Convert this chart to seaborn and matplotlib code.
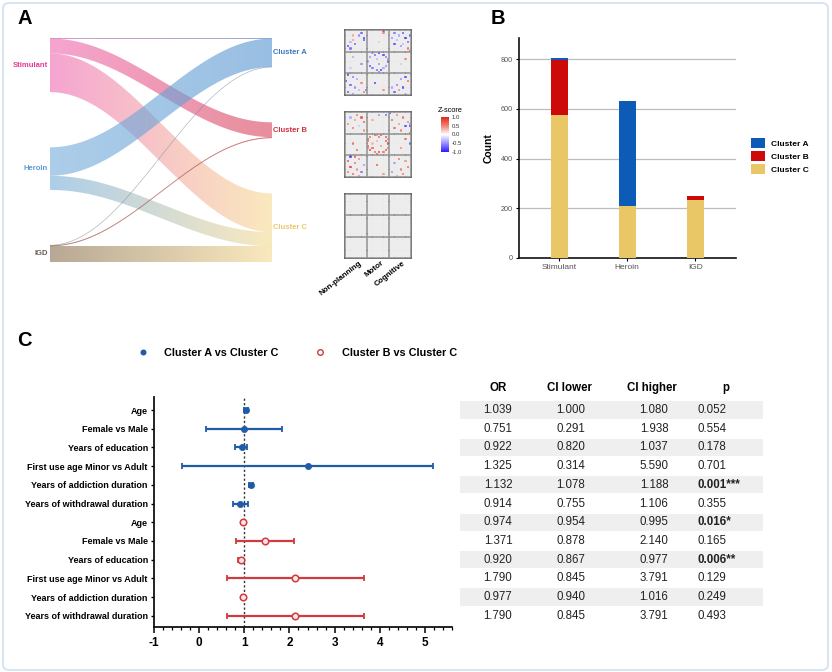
import numpy as np
import pandas as pd
import matplotlib
matplotlib.use("Agg")
import matplotlib.pyplot as plt
import seaborn as sns
from matplotlib.colors import LinearSegmentedColormap, to_rgb
from matplotlib.patches import PathPatch, Patch, FancyBboxPatch
from matplotlib.path import Path
from matplotlib.lines import Line2D

plt.rcParams['font.family'] = ['Liberation Sans', 'DejaVu Sans']

# ---------------- data ----------------
sources = ["Stimulant", "Heroin", "IGD"]
clusters = ["Cluster A", "Cluster B", "Cluster C"]
count_a = [8, 422, 2]
count_b = [220, 0, 15]
count_c = [575, 210, 233]

# heatmap sparse entries (row, col, z)
hm1_cells = [
    (1, 7, -0.8), (2, 6, -0.6), (3, 8, -1.0), (4, 3, 0.5), (5, 2, -0.4), (6, 4, -0.8), (7, 1, -0.9),
    (8, 2, -0.7), (2, 3, 0.4), (4, 8, -0.9),
    (0, 17, 0.9), (1, 17, 0.6), (5, 15, 0.3),
    (1, 22, -0.7), (1, 26, -0.9), (2, 24, -0.5), (3, 21, -0.6), (3, 27, -1.0), (4, 23, -0.4),
    (5, 28, -0.8), (6, 22, -0.9), (7, 25, -0.6), (8, 28, 0.7), (9, 29, 0.9), (2, 29, -0.8), (6, 26, -0.4),
    (12, 3, -0.5), (15, 7, -0.6), (17, 2, -0.3),
    (10, 15, -1.0), (11, 13, -0.8), (11, 17, -0.9), (12, 11, -0.6), (12, 18, -0.7), (14, 10, -0.5),
    (14, 19, -0.8), (16, 11, -0.9), (16, 18, -0.6), (17, 12, -0.7), (18, 14, -0.8), (18, 16, -1.0),
    (17, 17, -0.5), (13, 14, -0.4), (15, 15, -0.6), (10, 12, -0.5), (19, 15, -0.7), (13, 19, -0.6),
    (13, 27, 0.6), (15, 25, -0.3),
    (20, 1, -0.9), (21, 3, -0.7), (22, 5, -0.5), (23, 0, -1.0), (24, 7, 0.6), (25, 2, -0.8),
    (26, 4, -0.6), (27, 6, -0.4), (28, 1, -0.9), (28, 8, 0.7), (29, 3, -0.6), (27, 9, -0.8),
    (24, 13, -1.0), (27, 17, 0.5),
    (21, 27, -0.9), (22, 25, -0.6), (23, 28, 0.8), (25, 23, -0.7), (26, 21, -0.5), (26, 26, -0.9),
    (27, 24, 0.6), (28, 22, -0.8), (29, 27, -0.4),
]
hm2_cells = [
    (1, 5, 0.7), (2, 2, -0.4), (2, 7, 0.8), (3, 4, 0.5), (4, 8, 0.9), (5, 1, 0.6), (6, 6, -0.3),
    (7, 3, 0.7), (8, 8, 0.5),
    (1, 15, -0.6), (1, 18, -0.8), (3, 12, 0.4),
    (0, 20, -1.0), (1, 23, 0.6), (2, 26, 0.7), (3, 21, 0.8), (4, 28, 0.6), (5, 24, 0.5), (6, 27, -0.9),
    (6, 29, -1.0), (7, 22, 0.7), (8, 25, 0.6), (9, 29, 0.9), (5, 29, -0.6),
    (14, 3, 0.7), (17, 5, 0.8),
    (10, 13, 0.9), (10, 16, 1.0), (11, 11, 0.8), (11, 18, 0.9), (12, 10, 1.0), (12, 19, 0.7),
    (13, 10, 0.8), (14, 19, 1.0), (15, 10, 0.9), (16, 10, 0.7), (16, 19, 0.8), (17, 11, 1.0),
    (17, 18, 0.9), (18, 13, 0.8), (18, 15, 1.0), (18, 17, 0.7), (10, 14, 0.6), (19, 14, 0.9),
    (13, 14, 0.4), (15, 16, 0.5), (14, 12, 0.3), (11, 15, 0.8), (13, 18, 0.9), (16, 12, 0.8),
    (12, 27, 0.7), (14, 29, -0.8), (16, 25, 0.6),
    (20, 2, -0.9), (20, 4, 0.8), (21, 6, 0.6), (22, 1, 0.9), (23, 4, 0.7), (24, 8, -0.6), (25, 2, 1.0),
    (26, 5, 0.5), (27, 7, -0.7), (28, 3, 0.8), (29, 6, 0.6), (27, 1, 0.7),
    (24, 14, 0.9), (28, 17, 0.5),
    (21, 24, 0.7), (22, 27, 0.5), (23, 22, -0.5), (25, 28, 0.8), (26, 25, 0.6), (27, 21, -0.6),
    (28, 26, 0.7), (29, 23, 0.5),
]
hm3_cells = []
hm_block_labels = ["Non-planning", "Motor", "Cognitive"]

row_labels = ["Age", "Female vs Male", "Years of education", "First use age Minor vs Adult",
              "Years of addiction duration", "Years of withdrawal duration"]
or_a = [1.04, 0.99, 0.95, 2.41, 1.15, 0.91]
lo_a = [1.00, 0.16, 0.80, -0.39, 1.10, 0.75]
hi_a = [1.08, 1.84, 1.05, 5.19, 1.20, 1.08]
or_b = [0.97, 1.46, 0.92, 2.13, 0.98, 2.13]
lo_b = [0.95, 0.82, 0.87, 0.62, 0.94, 0.62]
hi_b = [0.995, 2.09, 0.98, 3.65, 1.02, 3.65]

tab_or = ["1.039", "0.751", "0.922", "1.325", "1.132", "0.914", "0.974", "1.371", "0.920", "1.790", "0.977", "1.790"]
tab_lo = ["1.000", "0.291", "0.820", "0.314", "1.078", "0.755", "0.954", "0.878", "0.867", "0.845", "0.940", "0.845"]
tab_hi = ["1.080", "1.938", "1.037", "5.590", "1.188", "1.106", "0.995", "2.140", "0.977", "3.791", "1.016", "3.791"]
tab_p = ["0.052", "0.554", "0.178", "0.701", "0.001***", "0.355", "0.016*", "0.165", "0.006**", "0.129", "0.249", "0.493"]
tab_p_bold = [False, False, False, False, True, False, True, False, True, False, False, False]
tab_headers = ["OR", "CI lower", "CI higher", "p"]

# ---------------- figure ----------------
W, H = 832, 672
fig = plt.figure(figsize=(W / 100, H / 100), dpi=100)
fig.patch.set_facecolor("white")


def add_px(x0, y0, x1, y1):
    return fig.add_axes([x0 / W, 1 - y1 / H, (x1 - x0) / W, (y1 - y0) / H])


fig.add_artist(FancyBboxPatch((3 / W, 2 / H), 825 / W, 667 / H,
                              boxstyle="round,pad=0,rounding_size=0.008",
                              transform=fig.transFigure, fill=False,
                              edgecolor="#d3e2f1", lw=1.3))

# ---------------- Panel A : sankey ----------------
src_colors = ["#f06eb4", "#7ab0dd", "#8c7355"]
tgt_colors = ["#5a97d2", "#d94a5e", "#f7dc96"]
src_label_colors = ["#e5399b", "#5b9bd5", "#6b5a4a"]
tgt_label_colors = ["#3a78c2", "#cf2f3d", "#ebc86a"]

flows = np.array([count_a, count_b, count_c]).T  # rows: sources, cols: clusters
src_tot = flows.sum(axis=1)
tgt_tot = flows.sum(axis=0)
GAP = 820
src_top = [src_tot[:i].sum() + i * GAP for i in range(3)]
tgt_top = [tgt_tot[:j].sum() + j * GAP for j in range(3)]
total_h = src_tot.sum() + 2 * GAP

axs = add_px(50, 38, 272, 262)
axs.axis("off")
xs = np.linspace(0, 1, 200)
sm = (1 - np.cos(np.pi * xs)) / 2
grad = np.linspace(0, 1, 256)[:, None]
for i in range(3):
    for j in range(3):
        v = flows[i, j]
        if v <= 0:
            continue
        ly0 = src_top[i] + flows[i, :j].sum()
        ry0 = tgt_top[j] + flows[:i, j].sum()
        top = ly0 + (ry0 - ly0) * sm
        bot = top + v
        verts = np.vstack([np.column_stack([xs, top]), np.column_stack([xs[::-1], bot[::-1]])])
        patch = PathPatch(Path(verts), facecolor="none", edgecolor="none", transform=axs.transData)
        axs.add_patch(patch)
        c0, c1 = np.array(to_rgb(src_colors[i])), np.array(to_rgb(tgt_colors[j]))
        img = (c0 * (1 - grad) + c1 * grad)[None, :, :]
        im = axs.imshow(img, extent=[0, 1, total_h, 0], aspect="auto", alpha=0.62,
                        interpolation="bilinear")
        im.set_clip_path(patch)
        if v < 20:
            axs.plot(xs, top + v / 2, color=c0 * 0.5 + c1 * 0.5, lw=0.5, alpha=0.5)
axs.set_xlim(0, 1)
axs.set_ylim(total_h, 0)
for i, name in enumerate(sources):
    axs.text(-0.01, src_top[i] + src_tot[i] / 2, name, ha="right", va="center",
             fontsize=5.5, fontweight="bold", color=src_label_colors[i], clip_on=False)
for j, name in enumerate(clusters):
    axs.text(1.005, tgt_top[j] + tgt_tot[j] / 2, name, ha="left", va="center",
             fontsize=5.5, fontweight="bold", color=tgt_label_colors[j], clip_on=False)

# ---------------- Panel A : heatmaps ----------------
zcmap = LinearSegmentedColormap.from_list("z", ["#2b1cff", "#9a90ff", "#ffffff", "#f0836f", "#e4261b"])
N = 30
hm_boxes = [(345, 30, 411, 95), (345, 112, 411, 177), (345, 194, 411, 258)]
hm_sets = [hm1_cells, hm2_cells, hm3_cells]
mappable = None
for k, (box, cells) in enumerate(zip(hm_boxes, hm_sets)):
    axh = add_px(*box)
    mat = np.full((N, N), np.nan)
    for r, c, z in cells:
        mat[r, c] = z
    sns.heatmap(mat, ax=axh, cmap=zcmap, vmin=-1, vmax=1, cbar=False,
                xticklabels=False, yticklabels=False)
    if k == 0:
        mappable = axh.collections[0]
    axh.set_facecolor("#e8e8e8")
    axh.set_xticks(np.arange(N + 1), minor=True)
    axh.set_yticks(np.arange(N + 1), minor=True)
    axh.grid(which="minor", color="#f8f8f8", lw=0.3)
    axh.set_axisbelow(False)
    axh.tick_params(which="both", length=0)
    for b in (10, 20):
        axh.axhline(b, color="#555555", lw=1.1)
        axh.axvline(b, color="#555555", lw=1.1)
    for s in axh.spines.values():
        s.set_visible(True)
        s.set_color("#555555")
        s.set_linewidth(1.1)
    if k == 2:
        axh.set_xticks([6.2, 16.2, 26.2])
        axh.set_xticklabels(hm_block_labels, rotation=38, ha="right", va="top",
                            rotation_mode="anchor", fontsize=5.8, fontweight="bold")
        axh.tick_params(axis="x", pad=1.0)

cax = add_px(441, 117, 449, 152)
cb = fig.colorbar(mappable, cax=cax)
cb.set_ticks([1.0, 0.5, 0.0, -0.5, -1.0])
cb.set_ticklabels(["1.0", "0.5", "0.0", "-0.5", "-1.0"])
cax.tick_params(length=0, labelsize=4.3, pad=2, colors="#333333")
cb.outline.set_visible(False)
fig.text(450 / W, 1 - 111 / H, "Z-score", ha="center", va="center", fontsize=5.3)

# ---------------- Panel B : stacked bars ----------------
colB = {"Cluster A": "#0c5bb6", "Cluster B": "#cc0a0a", "Cluster C": "#e9c766"}
axb = add_px(519, 38, 736, 258)
stack_levels = [("Cluster A", [a + b + c for a, b, c in zip(count_a, count_b, count_c)]),
                ("Cluster B", [b + c for b, c in zip(count_b, count_c)]),
                ("Cluster C", list(count_c))]
for name, vals in stack_levels:
    dfb = pd.DataFrame({"group": sources, "count": vals})
    sns.barplot(data=dfb, x="group", y="count", order=sources, color=colB[name],
                saturation=1, width=0.25, errorbar=None, ax=axb, zorder=3)
axb.set_xlim(-0.59, 2.6)
axb.set_ylim(0, 885)
axb.set_yticks([0, 200, 400, 600, 800])
axb.yaxis.grid(True, color="#bcbcbc", lw=0.9)
axb.set_axisbelow(True)
for s in ["top", "right"]:
    axb.spines[s].set_visible(False)
for s in ["left", "bottom"]:
    axb.spines[s].set_linewidth(1.2)
    axb.spines[s].set_color("#111111")
axb.tick_params(axis="both", length=2.5, width=0.8, labelsize=5.2, labelcolor="#555555", pad=2)
axb.tick_params(axis="x", labelsize=6)
axb.set_xlabel("")
axb.set_ylabel("Count", fontsize=7.5, fontweight="bold", labelpad=5)
leg_handles = [Patch(facecolor=colB[c], edgecolor="none") for c in clusters]
fig.legend(leg_handles, clusters, loc="center left", bbox_to_anchor=(751 / W, 1 - 156 / H),
           frameon=False, prop={"size": 6, "weight": "bold"}, handlelength=1.7,
           handleheight=1.55, handletextpad=0.7, labelspacing=0.3, borderpad=0, borderaxespad=0)

# ---------------- Panel C : forest plot ----------------
blue = "#1f5ca8"
red = "#d03a40"
axf = add_px(154, 397, 452, 627)
rows_a = np.arange(6)
rows_b = np.arange(6, 12)
axf.axvline(1, color="#333333", lw=1.0, ls=(0, (1.6, 1.6)), zorder=1)
axf.errorbar(or_a, rows_a, xerr=[np.array(or_a) - np.array(lo_a), np.array(hi_a) - np.array(or_a)],
             fmt="none", ecolor=blue, elinewidth=1.6, capsize=2.2, capthick=1.3, zorder=2)
axf.errorbar(or_b, rows_b, xerr=[np.array(or_b) - np.array(lo_b), np.array(hi_b) - np.array(or_b)],
             fmt="none", ecolor=red, elinewidth=1.6, capsize=2.2, capthick=1.3, zorder=2)
sns.scatterplot(x=or_a, y=rows_a, color=blue, edgecolor=blue, s=20, linewidth=0.5, ax=axf, zorder=4)
sns.scatterplot(x=or_b, y=rows_b, color="#fbe4e4", edgecolor=red, s=22, linewidth=1.1, ax=axf, zorder=4)
axf.set_xlim(-1, 5.6)
axf.set_ylim(11.6, -0.7)
axf.set_xticks(np.arange(-1, 6))
axf.set_xticks(np.arange(-1, 5.61, 0.2), minor=True)
axf.set_xticklabels([str(v) for v in range(-1, 6)], fontsize=8.5, fontweight="bold")
axf.set_yticks(np.arange(12))
axf.set_yticklabels(row_labels + row_labels, fontsize=6.5, fontweight="bold")
axf.tick_params(axis="x", which="major", length=4, width=1.1, pad=3)
axf.tick_params(axis="x", which="minor", length=2, width=0.9)
axf.tick_params(axis="y", length=2.5, width=1.0, pad=2)
for s in ["top", "right"]:
    axf.spines[s].set_visible(False)
for s in ["left", "bottom"]:
    axf.spines[s].set_linewidth(1.3)
    axf.spines[s].set_color("#111111")
axf.set_xlabel("")
axf.set_ylabel("")

legC = [Line2D([], [], marker="o", ls="none", color=blue, markersize=3.3),
        Line2D([], [], marker="o", ls="none", markerfacecolor="white", markeredgecolor=red,
               markeredgewidth=1.0, markersize=4)]
fig.legend(legC, ["Cluster A vs Cluster C", "Cluster B vs Cluster C"], loc="center",
           bbox_to_anchor=(297 / W, 1 - 353 / H), ncol=2, frameon=False,
           prop={"size": 7.8, "weight": "bold"}, handlelength=1.0, handletextpad=1.45,
           columnspacing=3.4, borderpad=0)

# ---------------- Panel C : table ----------------
axt = add_px(460, 397, 763, 627)
axt.set_xlim(0, 303)
axt.set_ylim(11.6, -0.7)
axt.axis("off")
for i in range(12):
    if i % 2 == 0:
        axt.axhspan(i - 0.46, i + 0.46, color="#efefef", lw=0)
col_x = [38, 111, 194, 237]
hdr_x = [38, 109, 192, 266]
for hx, h in zip(hdr_x, tab_headers):
    axt.text(hx, -1.18, h, ha="center", va="center", fontsize=8.3, fontweight="bold", clip_on=False)
for i in range(12):
    axt.text(col_x[0], i, tab_or[i], ha="center", va="center", fontsize=8.3, color="#222222")
    axt.text(col_x[1], i, tab_lo[i], ha="center", va="center", fontsize=8.3, color="#222222")
    axt.text(col_x[2], i, tab_hi[i], ha="center", va="center", fontsize=8.3, color="#222222")
    axt.text(col_x[3], i, tab_p[i], ha="left", va="center", fontsize=8.3, color="#222222",
             fontweight="bold" if tab_p_bold[i] else "normal")

# ---------------- panel letters ----------------
for letter, (px, py) in {"A": (17, 24), "B": (491, 24), "C": (17, 346)}.items():
    fig.text(px / W, 1 - py / H, letter, fontsize=14.5, fontweight="bold", ha="left", va="baseline")

fig.savefig("out.png", dpi=100)
